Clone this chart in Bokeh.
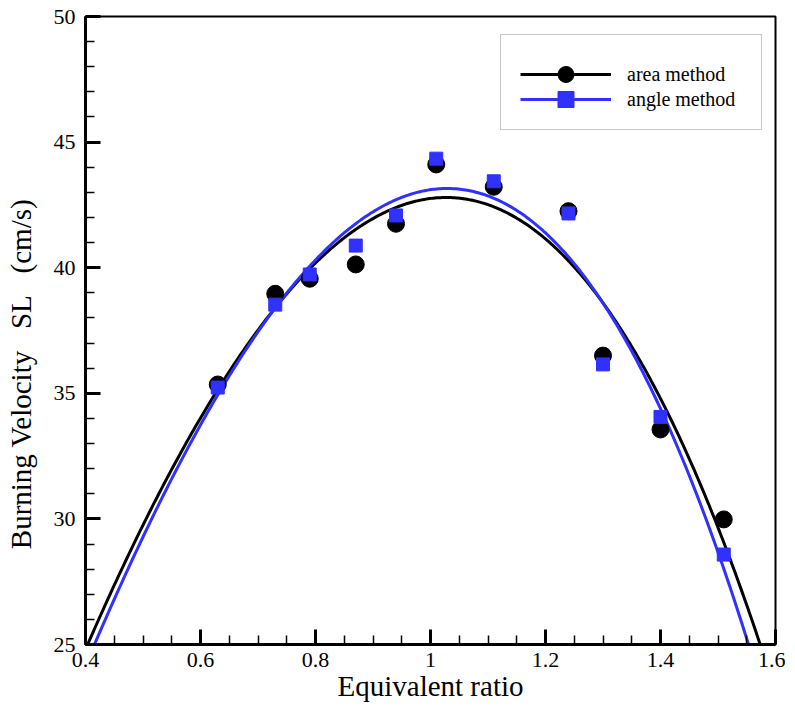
import numpy as np
from bokeh.plotting import figure
from bokeh.models import (Range1d, FixedTicker, CustomJSTickFormatter, Legend, LegendItem,
                          BoxAnnotation)
from bokeh.embed import file_html
from bokeh.resources import INLINE

# Data
phi = [0.63, 0.73, 0.79, 0.87, 0.94, 1.01, 1.11, 1.24, 1.30, 1.40, 1.51]
area_method = [35.35, 38.96, 39.56, 40.13, 41.75, 44.11, 43.22, 42.25, 36.50, 33.56, 29.98]
angle_method = [35.23, 38.53, 39.73, 40.88, 42.08, 44.34, 43.44, 42.16, 36.15, 34.06, 28.58]

x_ticks = [0.4, 0.6, 0.8, 1.0, 1.2, 1.4, 1.6]
y_ticks = [25, 30, 35, 40, 45, 50]

FONT = "Liberation Serif"
BLUE = "#3030ff"
NB = "\u00a0"

p = figure(output_backend="svg", toolbar_location=None,
           frame_width=690, frame_height=628,
           min_border_left=85, min_border_top=16, min_border_right=10, min_border_bottom=55,
           x_range=Range1d(0.4, 1.6), y_range=Range1d(25, 50))
p.grid.visible = False
p.outline_line_color = "black"
p.outline_line_width = 2
p.background_fill_color = "white"
p.border_fill_color = "white"

# fitted curves (cubic least-squares fit of each data series)
xs = np.linspace(0.38, 1.62, 400)
fit_a = np.polyval(np.polyfit(phi, area_method, 3), xs)
fit_b = np.polyval(np.polyfit(phi, angle_method, 3), xs)

la = p.line(xs, fit_a, line_color="black", line_width=3)
lb = p.line(xs, fit_b, line_color=BLUE, line_width=3)
sa = p.scatter(phi, area_method, marker="circle", size=17, fill_color="black", line_color="black")
sb = p.scatter(phi, angle_method, marker="square", size=13, fill_color=BLUE, line_color=BLUE)

minor_x = [round(0.4 + 0.05 * i, 2) for i in range(25)]
minor_y = list(range(25, 51))

for ax in (p.xaxis[0], p.yaxis[0]):
    ax.axis_line_width = 3
    ax.major_tick_line_width = 3
    ax.minor_tick_line_width = 1.5
    ax.major_tick_in = 15
    ax.major_tick_out = 0
    ax.minor_tick_in = 9
    ax.minor_tick_out = 0
    ax.major_label_text_font = FONT
    ax.major_label_text_font_size = "22px"
    ax.major_label_text_color = "black"
    ax.axis_label_text_font = FONT
    ax.axis_label_text_font_size = "29px"
    ax.axis_label_text_font_style = "normal"
    ax.axis_label_text_color = "black"

p.xaxis[0].ticker = FixedTicker(ticks=x_ticks, minor_ticks=minor_x)
p.yaxis[0].ticker = FixedTicker(ticks=y_ticks, minor_ticks=minor_y)
p.xaxis[0].formatter = CustomJSTickFormatter(code="""
const s = tick.toFixed(1);
return s.endsWith('.0') ? s.slice(0, -2) : s;
""")
p.xaxis[0].axis_label = "Equivalent ratio"
p.yaxis[0].axis_label = ("Burning Velocity" + NB * 3 + "SL" + NB * 3 + "(cm/s)" + NB * 12)
p.xaxis[0].major_label_standoff = 8
p.yaxis[0].major_label_standoff = 10
p.xaxis[0].axis_label_standoff = 0
p.yaxis[0].axis_label_standoff = 14

# legend frame (screen units relative to the plot frame, y measured upward)
p.add_layout(BoxAnnotation(left=415, right=676, top=610, bottom=515,
                           left_units="screen", right_units="screen",
                           top_units="screen", bottom_units="screen",
                           fill_alpha=0.0,
                           line_color="#444444", line_width=1, level="overlay"))

common = dict(padding=0, spacing=0, margin=0, glyph_width=91, glyph_height=40,
              label_standoff=16, label_height=40,
              label_text_font=FONT, label_text_font_size="20px",
              label_text_color="black",
              border_line_alpha=0, background_fill_alpha=0)
leg1 = Legend(items=[LegendItem(label="area method", renderers=[la, sa])],
              location=(435, 550), **common)
leg2 = Legend(items=[LegendItem(label="angle method", renderers=[lb, sb])],
              location=(435, 525), **common)
p.add_layout(leg1)
p.add_layout(leg2)

open("out.html", "w").write(file_html(p, INLINE))
